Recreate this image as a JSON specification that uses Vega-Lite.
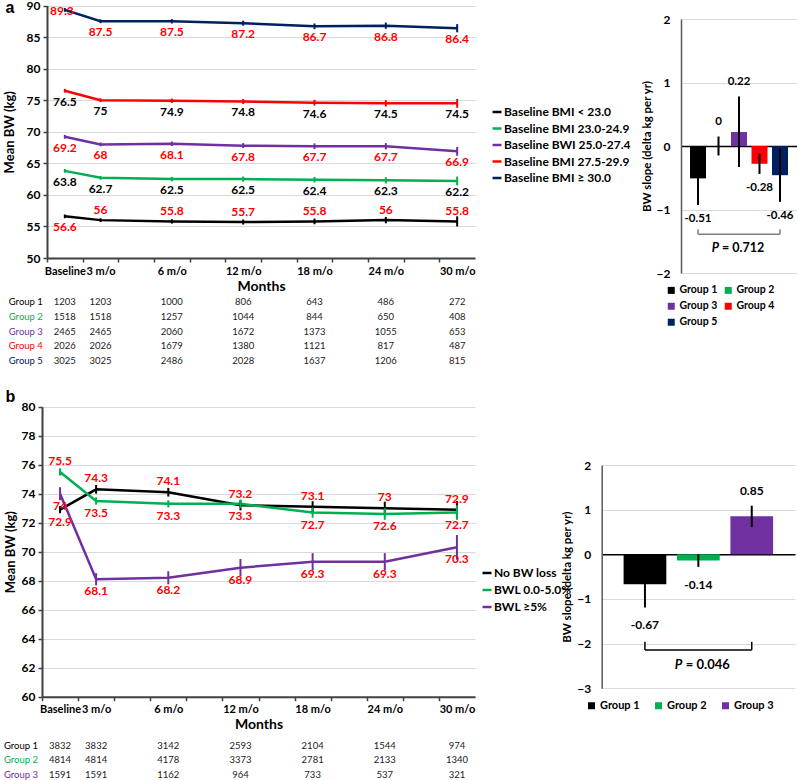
{
  "$schema": "https://vega.github.io/schema/vega-lite/v6.json",
  "width": 797, "height": 780,
  "autosize": {"type": "none"},
  "padding": 0,
  "background": "white",
  "config": {
    "font": "Lato",
    "view": {"stroke": null},
    "axis": {"labelFont": "Lato", "titleFont": "Lato", "labelColor": "#000", "titleColor": "#000", "gridColor": "#d9d9d9", "domainColor": "#404040", "tickColor": "#404040"},
    "legend": {"labelFont": "Lato", "labelColor": "#000", "padding": 0}
  },
  "datasets": {
    "lines": [
      {"panel":"a","group":"Group 1","series":"Baseline BMI < 23.0","time":"Baseline","month":0,"bw":56.6,"se":0.3,"n":1203},
      {"panel":"a","group":"Group 1","series":"Baseline BMI < 23.0","time":"3 m/o","month":3,"bw":56,"se":0.3,"n":1203},
      {"panel":"a","group":"Group 1","series":"Baseline BMI < 23.0","time":"6 m/o","month":6,"bw":55.8,"se":0.35,"n":1000},
      {"panel":"a","group":"Group 1","series":"Baseline BMI < 23.0","time":"12 m/o","month":12,"bw":55.7,"se":0.4,"n":806},
      {"panel":"a","group":"Group 1","series":"Baseline BMI < 23.0","time":"18 m/o","month":18,"bw":55.8,"se":0.45,"n":643},
      {"panel":"a","group":"Group 1","series":"Baseline BMI < 23.0","time":"24 m/o","month":24,"bw":56,"se":0.5,"n":486},
      {"panel":"a","group":"Group 1","series":"Baseline BMI < 23.0","time":"30 m/o","month":30,"bw":55.8,"se":0.8,"n":272},
      {"panel":"a","group":"Group 2","series":"Baseline BMI 23.0-24.9","time":"Baseline","month":0,"bw":63.8,"se":0.3,"n":1518},
      {"panel":"a","group":"Group 2","series":"Baseline BMI 23.0-24.9","time":"3 m/o","month":3,"bw":62.7,"se":0.3,"n":1518},
      {"panel":"a","group":"Group 2","series":"Baseline BMI 23.0-24.9","time":"6 m/o","month":6,"bw":62.5,"se":0.35,"n":1257},
      {"panel":"a","group":"Group 2","series":"Baseline BMI 23.0-24.9","time":"12 m/o","month":12,"bw":62.5,"se":0.4,"n":1044},
      {"panel":"a","group":"Group 2","series":"Baseline BMI 23.0-24.9","time":"18 m/o","month":18,"bw":62.4,"se":0.45,"n":844},
      {"panel":"a","group":"Group 2","series":"Baseline BMI 23.0-24.9","time":"24 m/o","month":24,"bw":62.3,"se":0.5,"n":650},
      {"panel":"a","group":"Group 2","series":"Baseline BMI 23.0-24.9","time":"30 m/o","month":30,"bw":62.2,"se":0.7,"n":408},
      {"panel":"a","group":"Group 3","series":"Baseline BWI 25.0-27.4","time":"Baseline","month":0,"bw":69.2,"se":0.3,"n":2465},
      {"panel":"a","group":"Group 3","series":"Baseline BWI 25.0-27.4","time":"3 m/o","month":3,"bw":68,"se":0.3,"n":2465},
      {"panel":"a","group":"Group 3","series":"Baseline BWI 25.0-27.4","time":"6 m/o","month":6,"bw":68.1,"se":0.35,"n":2060},
      {"panel":"a","group":"Group 3","series":"Baseline BWI 25.0-27.4","time":"12 m/o","month":12,"bw":67.8,"se":0.4,"n":1672},
      {"panel":"a","group":"Group 3","series":"Baseline BWI 25.0-27.4","time":"18 m/o","month":18,"bw":67.7,"se":0.45,"n":1373},
      {"panel":"a","group":"Group 3","series":"Baseline BWI 25.0-27.4","time":"24 m/o","month":24,"bw":67.7,"se":0.5,"n":1055},
      {"panel":"a","group":"Group 3","series":"Baseline BWI 25.0-27.4","time":"30 m/o","month":30,"bw":66.9,"se":0.7,"n":653},
      {"panel":"a","group":"Group 4","series":"Baseline BMI 27.5-29.9","time":"Baseline","month":0,"bw":76.5,"se":0.3,"n":2026},
      {"panel":"a","group":"Group 4","series":"Baseline BMI 27.5-29.9","time":"3 m/o","month":3,"bw":75,"se":0.3,"n":2026},
      {"panel":"a","group":"Group 4","series":"Baseline BMI 27.5-29.9","time":"6 m/o","month":6,"bw":74.9,"se":0.35,"n":1679},
      {"panel":"a","group":"Group 4","series":"Baseline BMI 27.5-29.9","time":"12 m/o","month":12,"bw":74.8,"se":0.4,"n":1380},
      {"panel":"a","group":"Group 4","series":"Baseline BMI 27.5-29.9","time":"18 m/o","month":18,"bw":74.6,"se":0.45,"n":1121},
      {"panel":"a","group":"Group 4","series":"Baseline BMI 27.5-29.9","time":"24 m/o","month":24,"bw":74.5,"se":0.5,"n":817},
      {"panel":"a","group":"Group 4","series":"Baseline BMI 27.5-29.9","time":"30 m/o","month":30,"bw":74.5,"se":0.7,"n":487},
      {"panel":"a","group":"Group 5","series":"Baseline BMI ≥ 30.0","time":"Baseline","month":0,"bw":89.3,"se":0.3,"n":3025},
      {"panel":"a","group":"Group 5","series":"Baseline BMI ≥ 30.0","time":"3 m/o","month":3,"bw":87.5,"se":0.3,"n":3025},
      {"panel":"a","group":"Group 5","series":"Baseline BMI ≥ 30.0","time":"6 m/o","month":6,"bw":87.5,"se":0.35,"n":2486},
      {"panel":"a","group":"Group 5","series":"Baseline BMI ≥ 30.0","time":"12 m/o","month":12,"bw":87.2,"se":0.4,"n":2028},
      {"panel":"a","group":"Group 5","series":"Baseline BMI ≥ 30.0","time":"18 m/o","month":18,"bw":86.7,"se":0.45,"n":1637},
      {"panel":"a","group":"Group 5","series":"Baseline BMI ≥ 30.0","time":"24 m/o","month":24,"bw":86.8,"se":0.5,"n":1206},
      {"panel":"a","group":"Group 5","series":"Baseline BMI ≥ 30.0","time":"30 m/o","month":30,"bw":86.4,"se":0.65,"n":815},
      {"panel":"b","group":"Group 1","series":"No BW loss","time":"Baseline","month":0,"bw":72.9,"se":0.25,"n":3832},
      {"panel":"b","group":"Group 1","series":"No BW loss","time":"3 m/o","month":3,"bw":74.3,"se":0.3,"n":3832},
      {"panel":"b","group":"Group 1","series":"No BW loss","time":"6 m/o","month":6,"bw":74.1,"se":0.3,"n":3142},
      {"panel":"b","group":"Group 1","series":"No BW loss","time":"12 m/o","month":12,"bw":73.2,"se":0.35,"n":2593},
      {"panel":"b","group":"Group 1","series":"No BW loss","time":"18 m/o","month":18,"bw":73.1,"se":0.38,"n":2104},
      {"panel":"b","group":"Group 1","series":"No BW loss","time":"24 m/o","month":24,"bw":73,"se":0.45,"n":1544},
      {"panel":"b","group":"Group 1","series":"No BW loss","time":"30 m/o","month":30,"bw":72.9,"se":0.6,"n":974},
      {"panel":"b","group":"Group 2","series":"BWL 0.0-5.0%","time":"Baseline","month":0,"bw":75.5,"se":0.25,"n":4814},
      {"panel":"b","group":"Group 2","series":"BWL 0.0-5.0%","time":"3 m/o","month":3,"bw":73.5,"se":0.25,"n":4814},
      {"panel":"b","group":"Group 2","series":"BWL 0.0-5.0%","time":"6 m/o","month":6,"bw":73.3,"se":0.25,"n":4178},
      {"panel":"b","group":"Group 2","series":"BWL 0.0-5.0%","time":"12 m/o","month":12,"bw":73.3,"se":0.3,"n":3373},
      {"panel":"b","group":"Group 2","series":"BWL 0.0-5.0%","time":"18 m/o","month":18,"bw":72.7,"se":0.35,"n":2781},
      {"panel":"b","group":"Group 2","series":"BWL 0.0-5.0%","time":"24 m/o","month":24,"bw":72.6,"se":0.4,"n":2133},
      {"panel":"b","group":"Group 2","series":"BWL 0.0-5.0%","time":"30 m/o","month":30,"bw":72.7,"se":0.5,"n":1340},
      {"panel":"b","group":"Group 3","series":"BWL ≥5%","time":"Baseline","month":0,"bw":74,"se":0.45,"n":1591},
      {"panel":"b","group":"Group 3","series":"BWL ≥5%","time":"3 m/o","month":3,"bw":68.1,"se":0.42,"n":1591},
      {"panel":"b","group":"Group 3","series":"BWL ≥5%","time":"6 m/o","month":6,"bw":68.2,"se":0.45,"n":1162},
      {"panel":"b","group":"Group 3","series":"BWL ≥5%","time":"12 m/o","month":12,"bw":68.9,"se":0.6,"n":964},
      {"panel":"b","group":"Group 3","series":"BWL ≥5%","time":"18 m/o","month":18,"bw":69.3,"se":0.6,"n":733},
      {"panel":"b","group":"Group 3","series":"BWL ≥5%","time":"24 m/o","month":24,"bw":69.3,"se":0.6,"n":537},
      {"panel":"b","group":"Group 3","series":"BWL ≥5%","time":"30 m/o","month":30,"bw":70.3,"se":0.85,"n":321}
    ],
    "slopes": [
      {"panel":"a","group":"Group 1","slope":-0.51,"lo":-0.93,"hi":-0.09},
      {"panel":"a","group":"Group 2","slope":0,"lo":-0.15,"hi":0.15},
      {"panel":"a","group":"Group 3","slope":0.22,"lo":-0.33,"hi":0.78},
      {"panel":"a","group":"Group 4","slope":-0.28,"lo":-0.44,"hi":-0.12},
      {"panel":"a","group":"Group 5","slope":-0.46,"lo":-0.88,"hi":-0.04},
      {"panel":"b","group":"Group 1","slope":-0.67,"lo":-1.19,"hi":-0.15},
      {"panel":"b","group":"Group 2","slope":-0.14,"lo":-0.28,"hi":0},
      {"panel":"b","group":"Group 3","slope":0.85,"lo":0.61,"hi":1.09}
    ],
    "pvals": [
      {"panel":"a","from":"Group 1","to":"Group 5","mid":"Group 3","p":"= 0.712"},
      {"panel":"b","from":"Group 1","to":"Group 3","mid":"Group 2","p":"= 0.046"}
    ]
  },
  "layer": [
    {
      "data": {"name": "lines"},
      "transform": [{"filter": "datum.panel == 'a'"}, {"calculate": "datum.bw - datum.se", "as": "lo"}, {"calculate": "datum.bw + datum.se", "as": "hi"}],
      "encoding": {
        "x": {"field": "time", "type": "nominal", "scale": {"type": "band", "domain": ["Baseline","3 m/o","_4","6 m/o","_8","12 m/o","_14","18 m/o","_20","24 m/o","_26","30 m/o"], "range": [47, 475], "paddingInner": 0, "paddingOuter": 0},
              "axis": {"orient": "bottom", "offset": -522, "title": "Months", "labelExpr": "indexof(datum.value, '_') == 0 ? '' : datum.value", "tickOffset": -17.83, "labelOffset": 17.83, "labelAngle": 0, "labelOverlap": false, "labelFlush": false, "labelFontSize": 11, "labelFontWeight": "bold", "tickSize": 4, "labelPadding": 3, "titleFontSize": 14, "titleFontWeight": "bold", "titlePadding": 3, "domainWidth": 2, "tickWidth": 1.5, "grid": false}},
        "y": {"field": "bw", "type": "quantitative", "title": "Mean BW (kg)", "scale": {"domain": [50, 90], "range": [258, 5.5], "zero": false, "nice": false},
              "axis": {"orient": "left", "offset": -47, "values": [50,55,60,65,70,75,80,85,90], "labelFontSize": 12, "labelFontWeight": "bold", "tickSize": 4, "labelPadding": 3, "titleFontSize": 13, "titleFontWeight": "bold", "titlePadding": 10, "grid": true, "domainWidth": 2, "tickWidth": 1.5}}
      },
      "layer": [
        {"mark": {"type": "line", "strokeWidth": 2.5},
         "encoding": {
           "color": {"field": "series", "type": "nominal",
                     "scale": {"domain": ["Baseline BMI < 23.0","Baseline BMI 23.0-24.9","Baseline BWI 25.0-27.4","Baseline BMI 27.5-29.9","Baseline BMI ≥ 30.0"], "range": ["#000000","#00b050","#7030a0","#ff0000","#002060"]},
                     "legend": {"orient": "none", "legendX": 491, "legendY": 106, "title": null, "symbolType": "stroke", "symbolStrokeWidth": 2.5, "symbolSize": 80, "labelFontSize": 12, "labelFontWeight": "bold", "rowPadding": 4.5, "labelOffset": 1}},
           "order": {"field": "month", "type": "quantitative"}}},
        {"mark": {"type": "rule", "strokeWidth": 2},
         "encoding": {"y": {"field": "lo", "type": "quantitative", "title": "Mean BW (kg)", "scale": {"domain": [50, 90], "range": [258, 5.5], "zero": false, "nice": false}}, "y2": {"field": "hi"},
                      "color": {"field": "series", "type": "nominal"}}},
        {"transform": [{"filter": "(datum.group != 'Group 1' && !(datum.group == 'Group 5' && datum.month == 0)) || (datum.group == 'Group 1' && datum.month == 0)"}],
         "mark": {"type": "text", "dy": 11, "fontSize": 12, "fontWeight": "bold"},
         "encoding": {"text": {"field": "bw", "type": "nominal"},
                      "color": {"condition": {"test": "datum.group == 'Group 2' || datum.group == 'Group 4'", "value": "#000000"}, "value": "#ff0000"}}},
        {"transform": [{"filter": "datum.group == 'Group 1' && datum.month != 0"}],
         "mark": {"type": "text", "dy": -10, "fontSize": 12, "fontWeight": "bold", "color": "#ff0000"},
         "encoding": {"text": {"field": "bw", "type": "nominal"}}},
        {"transform": [{"filter": "datum.group == 'Group 5' && datum.month == 0"}],
         "mark": {"type": "text", "dy": 1, "dx": -3, "fontSize": 12, "fontWeight": "bold", "color": "#ff0000"},
         "encoding": {"text": {"field": "bw", "type": "nominal"}}}
      ]
    },
    {
      "data": {"name": "lines"},
      "transform": [{"filter": "datum.panel == 'a'"}],
      "encoding": {
        "x": {"field": "time", "type": "nominal", "scale": {"type": "band", "domain": ["Baseline","3 m/o","_4","6 m/o","_8","12 m/o","_14","18 m/o","_20","24 m/o","_26","30 m/o"], "range": [47, 475], "paddingInner": 0, "paddingOuter": 0}, "axis": null},
        "y": {"field": "group", "type": "nominal", "scale": {"type": "band", "domain": ["Group 1","Group 2","Group 3","Group 4","Group 5"], "range": [295, 368], "paddingInner": 0, "paddingOuter": 0},
              "axis": {"orient": "left", "offset": -47, "labels": false, "ticks": false, "domain": false, "grid": false, "title": "a", "titleAngle": 0, "titleX": -42, "titleY": 12.3, "titleAlign": "left", "titleBaseline": "alphabetic", "titleFontSize": 16, "titleFontWeight": "bold", "titleFont": "Liberation Sans"}}
      },
      "layer": [
        {"mark": {"type": "text", "fontSize": 9.5, "color": "#222222"}, "encoding": {"text": {"field": "n", "type": "nominal"}}},
        {"transform": [{"filter": "datum.month == 0"}],
         "mark": {"type": "text", "fontSize": 9.5, "align": "right", "dx": -22},
         "encoding": {"text": {"field": "group", "type": "nominal"},
                      "color": {"field": "group", "type": "nominal", "scale": {"domain": ["Group 1","Group 2","Group 3","Group 4","Group 5"], "range": ["#000000","#00b050","#7030a0","#ff0000","#002060"]}, "legend": null}}}
      ]
    },
    {
      "layer": [
        {"data": {"name": "slopes"}, "transform": [{"filter": "datum.panel == 'a'"}],
         "mark": {"type": "bar"},
         "encoding": {
           "x": {"field": "group", "type": "nominal", "scale": {"domain": ["Group 1","Group 2","Group 3","Group 4","Group 5"], "range": [681, 797], "paddingInner": 0.22, "paddingOuter": 0.44},
                 "axis": {"orient": "bottom", "offset": -634, "labels": false, "ticks": false, "title": null, "grid": false, "domainColor": "#000000", "domainWidth": 1.5}},
           "y": {"field": "slope", "type": "quantitative", "title": "BW slope (delta kg per yr)", "scale": {"domain": [-2, 2], "range": [273, 19], "nice": false, "zero": false},
                 "axis": {"orient": "left", "offset": -681, "values": [-2,-1,0,1,2], "format": "d", "labelFontSize": 12, "labelFontWeight": "bold", "ticks": false, "labelPadding": 11, "titleFontSize": 11.5, "titleFontWeight": "bold", "titlePadding": 4, "grid": true, "domainWidth": 1.5, "domainColor": "#595959"}},
           "color": {"field": "group", "type": "nominal", "scale": {"domain": ["Group 1","Group 2","Group 3","Group 4","Group 5"], "range": ["#000000","#00b050","#7030a0","#ff0000","#002060"]},
                     "legend": {"orient": "none", "legendX": 666, "legendY": 285, "title": null, "direction": "horizontal", "columns": 2, "symbolType": "square", "symbolSize": 49, "symbolStrokeWidth": 0, "labelFontSize": 10.5, "labelFontWeight": "bold", "labelOffset": 3, "columnPadding": 5, "rowPadding": 5}}
         }},
        {"data": {"name": "slopes"}, "transform": [{"filter": "datum.panel == 'a'"}],
         "mark": {"type": "rule", "color": "#000000", "strokeWidth": 2},
         "encoding": {
           "x": {"field": "group", "type": "nominal"},
           "y": {"field": "lo", "type": "quantitative", "title": "BW slope (delta kg per yr)"}, "y2": {"field": "hi"}}},
        {"data": {"name": "slopes"}, "transform": [{"filter": "datum.panel == 'a' && datum.slope < 0"}],
         "mark": {"type": "text", "dy": 14, "fontSize": 11.5, "fontWeight": "bold", "color": "#000000"},
         "encoding": {
           "x": {"field": "group", "type": "nominal"},
           "y": {"field": "lo", "type": "quantitative", "title": "BW slope (delta kg per yr)"}, "text": {"field": "slope", "type": "nominal"}}},
        {"data": {"name": "slopes"}, "transform": [{"filter": "datum.panel == 'a' && datum.slope >= 0"}],
         "mark": {"type": "text", "dy": -14, "fontSize": 11.5, "fontWeight": "bold", "color": "#000000"},
         "encoding": {
           "x": {"field": "group", "type": "nominal"},
           "y": {"field": "hi", "type": "quantitative", "title": "BW slope (delta kg per yr)"}, "text": {"field": "slope", "type": "nominal"}}},
        {"data": {"name": "pvals"}, "transform": [{"filter": "datum.panel == 'a'"}],
         "mark": {"type": "rule", "color": "#7f7f7f", "strokeWidth": 1.5},
         "encoding": {"x": {"field": "from", "type": "nominal"}, "x2": {"field": "to"}, "y": {"datum": -1.39}}},
        {"data": {"name": "pvals"}, "transform": [{"filter": "datum.panel == 'a'"}],
         "mark": {"type": "rule", "color": "#7f7f7f", "strokeWidth": 1.5},
         "encoding": {"x": {"field": "from", "type": "nominal"}, "y": {"datum": -1.39}, "y2": {"datum": -1.31}}},
        {"data": {"name": "pvals"}, "transform": [{"filter": "datum.panel == 'a'"}],
         "mark": {"type": "rule", "color": "#7f7f7f", "strokeWidth": 1.5},
         "encoding": {"x": {"field": "to", "type": "nominal"}, "y": {"datum": -1.39}, "y2": {"datum": -1.31}}},
        {"data": {"name": "pvals"}, "transform": [{"filter": "datum.panel == 'a'"}],
         "mark": {"type": "text", "align": "right", "dx": -20, "fontSize": 12.5, "fontWeight": "bold", "fontStyle": "italic", "color": "#000000"},
         "encoding": {"x": {"field": "mid", "type": "nominal"}, "y": {"datum": -1.61}, "text": {"value": "P"}}},
        {"data": {"name": "pvals"}, "transform": [{"filter": "datum.panel == 'a'"}],
         "mark": {"type": "text", "align": "left", "dx": -17, "fontSize": 12.5, "fontWeight": "bold", "color": "#000000"},
         "encoding": {"x": {"field": "mid", "type": "nominal"}, "y": {"datum": -1.61}, "text": {"field": "p", "type": "nominal"}}}
      ]
    },
    {
      "data": {"name": "lines"},
      "transform": [{"filter": "datum.panel == 'b'"}, {"calculate": "datum.bw - datum.se", "as": "lo"}, {"calculate": "datum.bw + datum.se", "as": "hi"}],
      "encoding": {
        "x": {"field": "time", "type": "nominal", "scale": {"type": "band", "domain": ["Baseline","3 m/o","_4","6 m/o","_8","12 m/o","_14","18 m/o","_20","24 m/o","_26","30 m/o"], "range": [42, 475], "paddingInner": 0, "paddingOuter": 0},
              "axis": {"orient": "bottom", "offset": -83.3, "title": "Months", "labelExpr": "indexof(datum.value, '_') == 0 ? '' : datum.value", "tickOffset": -18.04, "labelOffset": 18.04, "labelAngle": 0, "labelOverlap": false, "labelFlush": false, "labelFontSize": 11, "labelFontWeight": "bold", "tickSize": 4, "labelPadding": 3, "titleFontSize": 14, "titleFontWeight": "bold", "titlePadding": 3, "domainWidth": 2, "tickWidth": 1.5, "grid": false}},
        "y": {"field": "bw", "type": "quantitative", "title": "Mean BW (kg)", "scale": {"domain": [60, 80], "range": [696.7, 406.7], "zero": false, "nice": false},
              "axis": {"orient": "left", "offset": -42, "values": [60,62,64,66,68,70,72,74,76,78,80], "labelFontSize": 12, "labelFontWeight": "bold", "tickSize": 4, "labelPadding": 3, "titleFontSize": 13, "titleFontWeight": "bold", "titlePadding": 4, "grid": true, "domainWidth": 2, "tickWidth": 1.5}}
      },
      "layer": [
        {"mark": {"type": "line", "strokeWidth": 2.5},
         "encoding": {
           "color": {"field": "series", "type": "nominal",
                     "scale": {"domain": ["No BW loss","BWL 0.0-5.0%","BWL ≥5%"], "range": ["#000000","#00b050","#7030a0"]},
                     "legend": {"orient": "none", "legendX": 481, "legendY": 567, "title": null, "symbolType": "stroke", "symbolStrokeWidth": 2.5, "symbolSize": 80, "labelFontSize": 12, "labelFontWeight": "bold", "rowPadding": 5, "labelOffset": 1}},
           "order": {"field": "month", "type": "quantitative"}}},
        {"mark": {"type": "rule", "strokeWidth": 2},
         "encoding": {"y": {"field": "lo", "type": "quantitative", "title": "Mean BW (kg)", "scale": {"domain": [60, 80], "range": [696.7, 406.7], "zero": false, "nice": false}}, "y2": {"field": "hi"},
                      "color": {"field": "series", "type": "nominal"}}},
        {"transform": [{"filter": "!((datum.group == 'Group 1' && datum.month != 0) || (datum.group == 'Group 2' && datum.month == 0))"}],
         "mark": {"type": "text", "dy": 12, "fontSize": 12, "fontWeight": "bold", "color": "#ff0000"},
         "encoding": {"text": {"field": "bw", "type": "nominal"}}},
        {"transform": [{"filter": "(datum.group == 'Group 1' && datum.month != 0) || (datum.group == 'Group 2' && datum.month == 0)"}],
         "mark": {"type": "text", "dy": -11, "fontSize": 12, "fontWeight": "bold", "color": "#ff0000"},
         "encoding": {"text": {"field": "bw", "type": "nominal"}}}
      ]
    },
    {
      "data": {"name": "lines"},
      "transform": [{"filter": "datum.panel == 'b'"}],
      "encoding": {
        "x": {"field": "time", "type": "nominal", "scale": {"type": "band", "domain": ["Baseline","3 m/o","_4","6 m/o","_8","12 m/o","_14","18 m/o","_20","24 m/o","_26","30 m/o"], "range": [42, 475], "paddingInner": 0, "paddingOuter": 0}, "axis": null},
        "y": {"field": "group", "type": "nominal", "scale": {"type": "band", "domain": ["Group 1","Group 2","Group 3"], "range": [738.45, 781.95], "paddingInner": 0, "paddingOuter": 0},
              "axis": {"orient": "left", "offset": -42, "labels": false, "ticks": false, "domain": false, "grid": false, "title": "b", "titleAngle": 0, "titleX": -37, "titleY": 401.7, "titleAlign": "left", "titleBaseline": "alphabetic", "titleFontSize": 16, "titleFontWeight": "bold", "titleFont": "Liberation Sans"}}
      },
      "layer": [
        {"mark": {"type": "text", "fontSize": 9.5, "color": "#222222"}, "encoding": {"text": {"field": "n", "type": "nominal"}}},
        {"transform": [{"filter": "datum.month == 0"}],
         "mark": {"type": "text", "fontSize": 9.5, "align": "right", "dx": -22},
         "encoding": {"text": {"field": "group", "type": "nominal"},
                      "color": {"field": "group", "type": "nominal", "scale": {"domain": ["Group 1","Group 2","Group 3"], "range": ["#000000","#00b050","#7030a0"]}, "legend": null}}}
      ]
    },
    {
      "layer": [
        {"data": {"name": "slopes"}, "transform": [{"filter": "datum.panel == 'b'"}],
         "mark": {"type": "bar"},
         "encoding": {
           "x": {"field": "group", "type": "nominal", "scale": {"domain": ["Group 1","Group 2","Group 3"], "range": [601.7, 795], "paddingInner": 0.2, "paddingOuter": 0.41},
                 "axis": {"orient": "bottom", "offset": -225.7, "labels": false, "ticks": false, "title": null, "grid": false, "domainColor": "#000000", "domainWidth": 1.5}},
           "y": {"field": "slope", "type": "quantitative", "title": "BW slope (delta kg per yr)", "scale": {"domain": [-3, 2], "range": [688.3, 465], "nice": false, "zero": false},
                 "axis": {"orient": "left", "offset": -601.7, "values": [-3,-2,-1,0,1,2], "format": "d", "labelFontSize": 12, "labelFontWeight": "bold", "ticks": false, "labelPadding": 11, "titleFontSize": 11.5, "titleFontWeight": "bold", "titlePadding": 4, "grid": true, "domainWidth": 1.5, "domainColor": "#595959"}},
           "color": {"field": "group", "type": "nominal", "scale": {"domain": ["Group 1","Group 2","Group 3"], "range": ["#000000","#00b050","#7030a0"]},
                     "legend": {"orient": "none", "legendX": 586, "legendY": 700, "title": null, "direction": "horizontal", "columns": 3, "symbolType": "square", "symbolSize": 49, "symbolStrokeWidth": 0, "labelFontSize": 11, "labelFontWeight": "bold", "labelOffset": 3, "columnPadding": 13}}
         }},
        {"data": {"name": "slopes"}, "transform": [{"filter": "datum.panel == 'b'"}],
         "mark": {"type": "rule", "color": "#000000", "strokeWidth": 2},
         "encoding": {
           "x": {"field": "group", "type": "nominal"},
           "y": {"field": "lo", "type": "quantitative", "title": "BW slope (delta kg per yr)"}, "y2": {"field": "hi"}}},
        {"data": {"name": "slopes"}, "transform": [{"filter": "datum.panel == 'b' && datum.slope < 0"}],
         "mark": {"type": "text", "dy": 18, "fontSize": 12, "fontWeight": "bold", "color": "#000000"},
         "encoding": {
           "x": {"field": "group", "type": "nominal"},
           "y": {"field": "lo", "type": "quantitative", "title": "BW slope (delta kg per yr)"}, "text": {"field": "slope", "type": "nominal"}}},
        {"data": {"name": "slopes"}, "transform": [{"filter": "datum.panel == 'b' && datum.slope >= 0"}],
         "mark": {"type": "text", "dy": -15, "fontSize": 12, "fontWeight": "bold", "color": "#000000"},
         "encoding": {
           "x": {"field": "group", "type": "nominal"},
           "y": {"field": "hi", "type": "quantitative", "title": "BW slope (delta kg per yr)"}, "text": {"field": "slope", "type": "nominal"}}},
        {"data": {"name": "pvals"}, "transform": [{"filter": "datum.panel == 'b'"}],
         "mark": {"type": "rule", "color": "#000000", "strokeWidth": 1.5},
         "encoding": {"x": {"field": "from", "type": "nominal"}, "x2": {"field": "to"}, "y": {"datum": -2.14}}},
        {"data": {"name": "pvals"}, "transform": [{"filter": "datum.panel == 'b'"}],
         "mark": {"type": "rule", "color": "#000000", "strokeWidth": 1.5},
         "encoding": {"x": {"field": "from", "type": "nominal"}, "y": {"datum": -2.14}, "y2": {"datum": -1.96}}},
        {"data": {"name": "pvals"}, "transform": [{"filter": "datum.panel == 'b'"}],
         "mark": {"type": "rule", "color": "#000000", "strokeWidth": 1.5},
         "encoding": {"x": {"field": "to", "type": "nominal"}, "y": {"datum": -2.14}, "y2": {"datum": -1.96}}},
        {"data": {"name": "pvals"}, "transform": [{"filter": "datum.panel == 'b'"}],
         "mark": {"type": "text", "align": "right", "dx": -16, "fontSize": 13, "fontWeight": "bold", "fontStyle": "italic", "color": "#000000"},
         "encoding": {"x": {"field": "mid", "type": "nominal"}, "y": {"datum": -2.48}, "text": {"value": "P"}}},
        {"data": {"name": "pvals"}, "transform": [{"filter": "datum.panel == 'b'"}],
         "mark": {"type": "text", "align": "left", "dx": -12.5, "fontSize": 13, "fontWeight": "bold", "color": "#000000"},
         "encoding": {"x": {"field": "mid", "type": "nominal"}, "y": {"datum": -2.48}, "text": {"field": "p", "type": "nominal"}}}
      ]
    }
  ],
  "resolve": {"scale": {"x": "independent", "y": "independent", "color": "independent"}, "axis": {"x": "independent", "y": "independent"}, "legend": {"color": "independent"}}
}
